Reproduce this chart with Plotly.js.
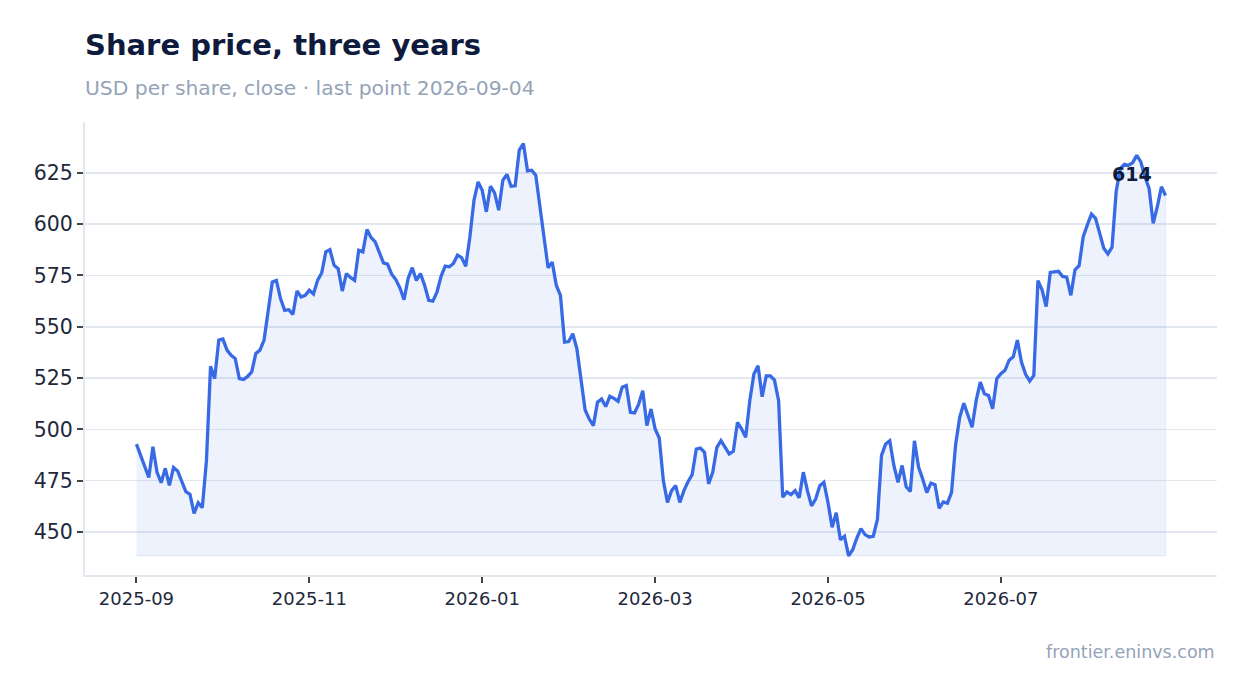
<!DOCTYPE html>
<html>
<head>
<meta charset="utf-8">
<script src="https://cdn.plot.ly/plotly-3.0.1.min.js"></script>
<style>
  html, body { margin: 0; padding: 0; background: #fff; }
  #chart { width: 1247px; height: 693px; }
</style>
</head>
<body>
<div id="chart"></div>
<script>
// closing price, one point per trading day
var price = [
  492.8, 487, 482, 476.5, 491.5, 479, 474, 481, 472.7, 481.4,
  479.7, 474.8, 469.6, 468.3, 459, 464.2, 461.8, 484.6, 530.7, 524.7,
  543.5, 544, 538.6, 536.1, 534.5, 524.7, 524.3, 525.8, 528, 537,
  538.6, 543.5, 558, 571.8, 572.6, 563.7, 558, 558.3, 556, 567.4,
  564.5, 565.3, 567.8, 566, 572.6, 576.2, 586.5, 587.6, 580, 578.3,
  567.4, 575.9, 574, 572.6, 587.3, 586.5, 597.4, 593.5, 591.4, 586.5,
  581.1, 580.5, 575.6, 573, 569, 563.2, 573.5, 578.8, 572.6, 575.9,
  570.2, 562.9, 562.5, 566.9, 574.6, 579.6, 579.2, 580.8, 584.9, 583.7,
  579.5, 593.8, 611.7, 620.6, 616.5, 606, 618.5, 615.2, 606.8, 621.4,
  624.3, 618.5, 618.7, 636.1, 639.3, 626, 626.3, 623.9, 609.2, 593.8,
  578.8, 581.5, 570.1, 565.3, 542.5, 542.8, 546.6, 539.2, 525.4, 509.4,
  505, 501.8, 513.2, 514.8, 511.1, 516.1, 515.1, 513.7, 520.5, 521.3,
  508.3, 508, 512.3, 518.8, 501.8, 509.9, 500.2, 495.8, 475, 464.4,
  470.1, 472.6, 464.4, 470.1, 474.5, 477.9, 490.4, 490.9, 488.8, 473.4,
  479.1, 491.2, 494.5, 491.2, 488, 489.3, 503.4, 500.2, 496.1, 514,
  527, 531, 515.9, 526.1, 526.1, 524, 514, 466.9, 469.5, 468.2,
  470.1, 466.6, 479.1, 470.1, 462.7, 466, 472.5, 474.2, 464.3, 452.3,
  459.4, 446.2, 447.9, 438.3, 441.3, 447, 451.6, 448.7, 447.5, 447.9,
  456.1, 487.3, 492.8, 494.4, 482.4, 474.2, 482.4, 472, 469.7, 494.4,
  481.6, 475.8, 469.2, 473.8, 473, 461.5, 464.6, 464, 469.2, 492.5,
  505.9, 512.7, 506.7, 501, 514.1, 523, 517.3, 516.5, 510, 524.7,
  527.1, 528.8, 533.7, 535.3, 543.5, 532.8, 526.8, 523.5, 526.3, 572.5,
  568, 559.8, 576.5, 576.6, 577, 574.5, 574.2, 565.3, 577.8, 579.7,
  593.9, 599.6, 604.9, 602.8, 595.5, 588.3, 585.5, 588.8, 615.8, 627.1,
  629.2, 628.7, 629.9, 633.6, 630.3, 623.1, 617.4, 600.4, 608.5, 618.2,
  614
];

// month labels, every 42 trading days
var tickLabels = ['2025-09', '2025-11', '2026-01', '2026-03', '2026-05', '2026-07'];
var tickIdx = [0, 42, 84, 126, 168, 210];

var day = price.map(function (_, i) { return i; });
var floor = Math.min.apply(null, price);
var last = day.length - 1;

var lineCol = '#386ae5';
var ink = '#0e1b3d';
var muted = '#94a3b8';

// shaded band between the line and its low
var band = {
  x: day.concat(day.slice().reverse()),
  y: price.concat(day.map(function () { return floor; })),
  type: 'scatter',
  mode: 'lines',
  fill: 'toself',
  fillcolor: 'rgba(57,107,228,0.09)',
  line: { color: 'rgba(57,107,228,0.10)', width: 1 },
  hoverinfo: 'skip'
};

var line = {
  x: day,
  y: price,
  type: 'scatter',
  mode: 'lines',
  line: { color: lineCol, width: 3.3 }
};

var layout = {
  width: 1247,
  height: 693,
  showlegend: false,
  paper_bgcolor: '#fff',
  plot_bgcolor: '#fff',
  margin: { l: 85, r: 30, t: 122, b: 118 },
  font: { family: 'DejaVu Sans', color: '#1e293b', size: 18 },
  title: {
    text: 'Share price, three years',
    font: { family: 'DejaVu Sans', size: 29, color: ink, weight: 700 },
    xref: 'paper', x: 0, xanchor: 'left',
    yref: 'container', y: 0.936, yanchor: 'middle'
  },
  xaxis: {
    range: [-12.5, 262.5],
    tickvals: tickIdx,
    ticktext: tickLabels,
    ticks: 'outside',
    ticklen: 6,
    tickwidth: 2,
    tickcolor: '#444',
    showgrid: false,
    zeroline: false,
    showline: true,
    linecolor: '#e3e8f0',
    linewidth: 2,
    tickfont: { size: 18, color: '#1e293b' }
  },
  yaxis: {
    range: [429, 649.8],
    tick0: 450,
    dtick: 25,
    ticks: 'outside',
    ticklen: 6,
    tickwidth: 2,
    tickcolor: '#444',
    showgrid: true,
    gridcolor: '#e3e8f0',
    gridwidth: 1.5,
    zeroline: false,
    showline: true,
    linecolor: '#e3e8f0',
    linewidth: 2,
    tickfont: { size: 20.5, color: '#1e293b' }
  },
  annotations: [
    {
      text: 'USD per share, close · last point 2026-09-04',
      xref: 'paper', x: 0, xanchor: 'left', xshift: -2,
      yref: 'paper', y: 1.075, yanchor: 'middle',
      showarrow: false,
      font: { size: 20.3, color: muted }
    },
    {
      text: String(price[last]),
      x: last, y: price[last],
      xanchor: 'right', yanchor: 'middle',
      xshift: -12, yshift: 21,
      showarrow: false,
      font: { size: 19, color: ink, weight: 700 }
    },
    {
      text: 'frontier.eninvs.com',
      xref: 'paper', x: 1, xanchor: 'right',
      yref: 'paper', y: -0.17, yanchor: 'middle',
      showarrow: false,
      font: { size: 17.5, color: muted }
    }
  ]
};

Plotly.newPlot('chart', [band, line], layout, { displayModeBar: false, staticPlot: true });
</script>
</body>
</html>
